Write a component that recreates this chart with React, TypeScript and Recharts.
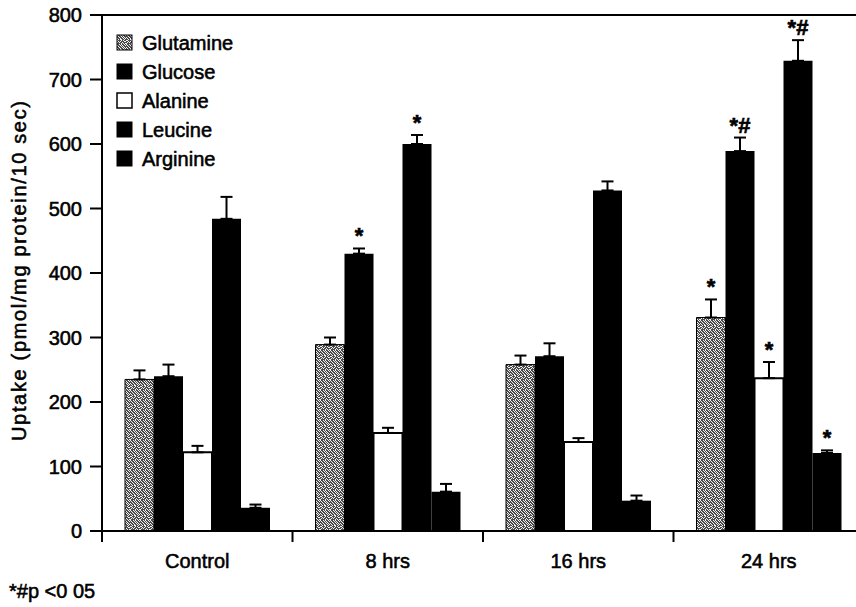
import React from 'react';
import { BarChart, Bar, XAxis, YAxis, ErrorBar, Legend, LabelList, ReferenceLine } from 'recharts';

const categories = ['Control', '8 hrs', '16 hrs', '24 hrs'];
const seriesNames = ['Glutamine', 'Glucose', 'Alanine', 'Leucine', 'Arginine'];

const glutamine = [235, 289, 258, 331];
const glutamineErr = [14, 11, 14, 28];
const glucose = [240, 430, 271, 589];
const glucoseErr = [18, 8, 20, 21];
const alanine = [122, 152, 138, 237];
const alanineErr = [10, 8, 6, 25];
const leucine = [484, 600, 528, 729];
const leucineErr = [34, 14, 14, 32];
const arginine = [36, 61, 47, 121];
const arginineErr = [5, 12, 8, 4];

const glutamineSig = ['', '', '', '*'];
const glucoseSig = ['', '*', '', '*#'];
const alanineSig = ['', '', '', '*'];
const leucineSig = ['', '*', '', '*#'];
const arginineSig = ['', '', '', '*'];

const yTicks = [0, 100, 200, 300, 400, 500, 600, 700, 800];
const yLabel = 'Uptake (pmol/mg protein/10 sec)';
const footNote = '*#p <0 05';

const FONT = '"Liberation Sans", Arial, Helvetica, sans-serif';
const TEXT_STROKE = 0.55;
const CHART_W = 880;
const CHART_H = 607;
const MARGIN = { top: 15, right: 16, left: 0, bottom: 0 };
const Y_AXIS_W = 102;
const X_AXIS_H = 76;
const PLOT_LEFT = MARGIN.left + Y_AXIS_W;
const PLOT_RIGHT = CHART_W - MARGIN.right;
const AXIS_Y = CHART_H - MARGIN.bottom - X_AXIS_H;
const BAND = (PLOT_RIGHT - PLOT_LEFT) / categories.length;

const data = categories.map((name, i) => ({
  name,
  glutamine: glutamine[i],
  glutamineErr: [0, glutamineErr[i]],
  glucose: glucose[i],
  glucoseErr: [0, glucoseErr[i]],
  alanine: alanine[i],
  alanineErr: [0, alanineErr[i]],
  leucine: leucine[i],
  leucineErr: [0, leucineErr[i]],
  arginine: arginine[i],
  arginineErr: [0, arginineErr[i]],
}));

const fills: Record<string, string> = {
  Glutamine: 'url(#stipple)',
  Glucose: '#000',
  Alanine: '#fff',
  Leucine: '#000',
  Arginine: '#000',
};

const XTick = (props: any) => {
  const { x, payload } = props;
  const bx = Number(x) - BAND / 2;
  return (
    <g>
      <line x1={bx} x2={bx} y1={AXIS_Y} y2={AXIS_Y + 11} stroke="#000" strokeWidth={2} />
      <text
        x={Number(x)}
        y={AXIS_Y + 37}
        textAnchor="middle"
        fill="#000"
        stroke="#000"
        strokeWidth={TEXT_STROKE}
        fontSize={20}
        fontFamily={FONT}
      >
        {payload.value}
      </text>
    </g>
  );
};

const sigLabel = (sig: string[], err: number[]) => (props: any) => {
  const { x, y, width, height, value, index } = props;
  const s = sig[index];
  if (!s) return null;
  const v = Number(value);
  const pxPer = v ? Math.abs(Number(height)) / v : 0;
  const capY = Number(y) - err[index] * pxPer;
  return (
    <text
      x={Number(x) + Number(width) / 2}
      y={capY - 5}
      textAnchor="middle"
      fill="#000"
      stroke="#000"
      strokeWidth={0.6}
      fontSize={22}
      fontWeight="bold"
      fontFamily={FONT}
    >
      {s}
    </text>
  );
};

const LegendBox = () => (
  <div style={{ fontFamily: FONT, fontSize: 20, color: '#000', WebkitTextStroke: `${TEXT_STROKE}px #000` }}>
    {seriesNames.map((n) => (
      <div key={n} style={{ display: 'flex', alignItems: 'center', height: 29 }}>
        <svg width={17} height={17} style={{ marginRight: 9, display: 'block' }}>
          <rect
            x={1}
            y={1}
            width={15}
            height={15}
            fill={fills[n]}
            stroke="#000"
            strokeWidth={n === 'Alanine' ? 1.5 : 1}
          />
        </svg>
        <span style={{ lineHeight: '20px' }}>{n}</span>
      </div>
    ))}
  </div>
);

const YLabelContent = () => {
  const cx = 19;
  const cy = 271;
  return (
    <text
      x={cx}
      y={cy}
      transform={`rotate(-90 ${cx} ${cy})`}
      textAnchor="middle"
      dominantBaseline="central"
      fill="#000"
      stroke="#000"
      strokeWidth={TEXT_STROKE}
      fontSize={20}
      fontFamily={FONT}
      textLength={340}
      lengthAdjust="spacing"
    >
      {yLabel}
    </text>
  );
};

const stippleRows = [
  '1001010010',
  '0100101001',
  '0010010100',
  '1001001010',
  '0100100101',
  '0010110010',
  '1100010100',
  '0010100011',
  '0101001000',
  '1000010101',
];

export default function App() {
  return (
    <div style={{ position: 'fixed', left: 0, top: 0, width: 856, height: 607, overflow: 'hidden', background: '#fff' }}>
      <BarChart
        width={CHART_W}
        height={CHART_H}
        data={data}
        margin={MARGIN}
        barCategoryGap={23}
        barGap={0}
      >
        <defs>
          <pattern id="stipple" patternUnits="userSpaceOnUse" width={10} height={10}>
            <rect x={0} y={0} width={10} height={10} fill="#4a4a4a" />
            {stippleRows.map((row, ry) =>
              row.split('').map((c, rx) =>
                c === '1' ? <rect key={`${rx}-${ry}`} x={rx} y={ry} width={1} height={1} fill="#f0f0f0" /> : null
              )
            )}
          </pattern>
        </defs>
        <XAxis
          dataKey="name"
          height={X_AXIS_H}
          axisLine={{ stroke: '#000', strokeWidth: 2 }}
          tickLine={false}
          tick={<XTick />}
          interval={0}
        />
        <YAxis
          width={Y_AXIS_W}
          domain={[0, 800]}
          ticks={yTicks}
          interval={0}
          axisLine={{ stroke: '#000', strokeWidth: 2 }}
          tickLine={{ stroke: '#000', strokeWidth: 2 }}
          tickSize={12}
          tickMargin={8}
          tick={{ fill: '#000', stroke: '#000', strokeWidth: TEXT_STROKE, fontSize: 20, fontFamily: FONT }}
          label={{ content: <YLabelContent /> }}
        />
        <ReferenceLine y={800} stroke="#000" strokeWidth={2} />
        <Legend
          layout="vertical"
          align="center"
          verticalAlign="middle"
          content={<LegendBox />}
          wrapperStyle={{ left: 116, top: 28, width: 'auto', height: 'auto' }}
        />
        <Bar dataKey="glutamine" name="Glutamine" fill="url(#stipple)" stroke="#000" strokeWidth={1} isAnimationActive={false}>
          <ErrorBar dataKey="glutamineErr" width={6} stroke="#000" strokeWidth={2} direction="y" />
          <LabelList dataKey="glutamine" content={sigLabel(glutamineSig, glutamineErr)} />
        </Bar>
        <Bar dataKey="glucose" name="Glucose" fill="#000" isAnimationActive={false}>
          <ErrorBar dataKey="glucoseErr" width={6} stroke="#000" strokeWidth={2} direction="y" />
          <LabelList dataKey="glucose" content={sigLabel(glucoseSig, glucoseErr)} />
        </Bar>
        <Bar dataKey="alanine" name="Alanine" fill="#fff" stroke="#000" strokeWidth={2} isAnimationActive={false}>
          <ErrorBar dataKey="alanineErr" width={6} stroke="#000" strokeWidth={2} direction="y" />
          <LabelList dataKey="alanine" content={sigLabel(alanineSig, alanineErr)} />
        </Bar>
        <Bar dataKey="leucine" name="Leucine" fill="#000" isAnimationActive={false}>
          <ErrorBar dataKey="leucineErr" width={6} stroke="#000" strokeWidth={2} direction="y" />
          <LabelList dataKey="leucine" content={sigLabel(leucineSig, leucineErr)} />
        </Bar>
        <Bar dataKey="arginine" name="Arginine" fill="#000" isAnimationActive={false}>
          <ErrorBar dataKey="arginineErr" width={6} stroke="#000" strokeWidth={2} direction="y" />
          <LabelList dataKey="arginine" content={sigLabel(arginineSig, arginineErr)} />
        </Bar>
      </BarChart>
      <div
        style={{
          position: 'absolute',
          left: 9,
          top: 579,
          fontFamily: FONT,
          fontSize: 20,
          lineHeight: '24px',
          color: '#000',
          whiteSpace: 'nowrap',
          WebkitTextStroke: `${TEXT_STROKE}px #000`,
        }}
      >
        {footNote}
      </div>
    </div>
  );
}
